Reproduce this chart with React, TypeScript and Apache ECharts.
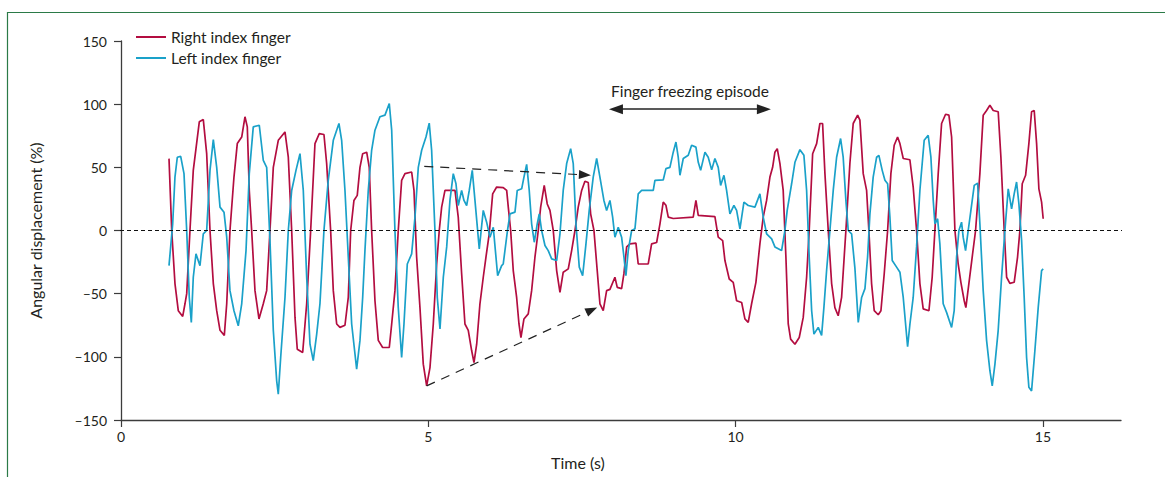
import React, { useEffect, useRef } from "react";
import * as echarts from "echarts";

const xTicks = [0, 5, 10, 15];
const yTicks = [-150, -100, -50, 0, 50, 100, 150];
const seriesNames = ["Right index finger", "Left index finger"];

// [time (s), angular displacement (%)]
const rightFinger: [number, number][] = [
  [0.781,56.9],[0.825,0],[0.878,-42],[0.932,-63.5],[1.004,-68],[1.041,-58],[1.069,-50],[1.122,0],[1.176,47.6],[1.220,64.8],[1.274,86],[1.339,87.8],[1.394,60.8],[1.448,0],[1.502,-42],[1.557,-63.5],[1.611,-79],[1.681,-83],[1.720,-58],[1.773,0],[1.838,42.3],[1.892,68.8],[1.964,74],[2.017,90],[2.055,82],[2.087,31.7],[2.126,0],[2.180,-47.6],[2.245,-70],[2.315,-58],[2.370,-47.6],[2.424,0],[2.478,50],[2.559,71.4],[2.668,78],[2.722,58],[2.777,0],[2.831,-68.8],[2.868,-94],[2.956,-96.6],[3.021,-58],[3.086,0],[3.156,68.8],[3.226,76.7],[3.302,76],[3.346,53],[3.411,0],[3.454,-47.6],[3.509,-74],[3.563,-76.7],[3.644,-75],[3.698,-53],[3.737,0],[3.790,23.8],[3.844,27.8],[3.888,50],[3.932,60.8],[3.997,62],[4.039,50],[4.078,0],[4.132,-55.6],[4.186,-87],[4.257,-92.6],[4.365,-92.6],[4.404,-74],[4.457,-47.6],[4.511,0],[4.566,39.7],[4.620,45],[4.729,46.3],[4.767,31.7],[4.810,-21],[4.864,-61],[4.918,-105.8],[4.973,-123],[5.027,-108.5],[5.081,-74],[5.136,-26.5],[5.178,0],[5.217,18.5],[5.271,31.7],[5.352,31.7],[5.434,31.7],[5.487,10.6],[5.542,-34],[5.596,-74],[5.650,-79],[5.705,-95],[5.743,-104.5],[5.787,-90],[5.840,-58],[5.894,-37],[5.938,-21],[5.991,-2.6],[6.047,29],[6.112,34.4],[6.219,34],[6.275,31.7],[6.301,18.5],[6.340,0],[6.382,-31.7],[6.437,-53],[6.475,-74],[6.507,-84.7],[6.556,-70],[6.626,-66],[6.681,-47.6],[6.735,-21],[6.789,0],[6.828,18.5],[6.886,35.7],[6.935,21],[6.979,15.9],[7.033,0],[7.088,-31.7],[7.142,-49],[7.195,-33],[7.277,-30.4],[7.332,-15.9],[7.386,0],[7.439,18.5],[7.495,31.7],[7.548,39],[7.602,38],[7.641,13.2],[7.695,0],[7.748,-31.7],[7.792,-58],[7.846,-63.5],[7.901,-47.6],[7.955,-46.6],[8.036,-37],[8.074,-45],[8.145,-46],[8.183,-34],[8.227,-13],[8.280,-10.6],[8.378,-10],[8.415,-26.5],[8.578,-26.5],[8.633,-10.6],[8.715,-9.5],[8.769,5.3],[8.822,22.5],[8.866,20],[8.904,10.6],[8.985,9.5],[9.310,10.6],[9.354,23.8],[9.392,11.9],[9.663,11],[9.717,-5.3],[9.789,-8],[9.826,-23.8],[9.896,-38.4],[9.961,-41],[10.016,-55.6],[10.098,-57],[10.151,-70],[10.205,-72.8],[10.260,-58],[10.330,-41],[10.395,-10.6],[10.449,10.6],[10.504,23.8],[10.558,42.3],[10.602,50],[10.639,62],[10.677,64.8],[10.721,53],[10.774,31.7],[10.818,-21],[10.856,-74],[10.895,-86],[10.965,-90],[11.035,-84.7],[11.100,-68.8],[11.155,-37],[11.197,0],[11.253,60.8],[11.318,68.8],[11.371,84.7],[11.415,84.7],[11.453,45],[11.507,0],[11.562,-42],[11.615,-61],[11.669,-67.5],[11.724,-53],[11.794,0],[11.859,53],[11.913,84.7],[11.985,91.3],[12.022,87.3],[12.076,45],[12.131,31.7],[12.168,0],[12.212,-42],[12.255,-63.5],[12.320,-66.7],[12.364,-63.5],[12.418,-34],[12.473,0],[12.526,45],[12.580,67.5],[12.635,74],[12.673,68.8],[12.727,57],[12.835,56],[12.889,34.4],[12.944,0],[12.998,-42],[13.052,-62],[13.145,-63.5],[13.198,-37],[13.242,0],[13.296,45],[13.351,84.7],[13.416,92],[13.470,91.3],[13.514,74],[13.568,0],[13.621,-26.5],[13.665,-41],[13.719,-55.6],[13.746,-61],[13.795,-42],[13.849,-21],[13.904,0],[13.974,45],[14.028,91.3],[14.083,95],[14.137,99.2],[14.191,95],[14.272,94],[14.316,58],[14.370,0],[14.409,-37],[14.462,-41.8],[14.532,-41],[14.587,-21],[14.625,0],[14.663,37],[14.718,43.7],[14.771,68.8],[14.815,94],[14.858,95],[14.897,68.8],[14.934,33],[14.978,22.5],[15.004,9.3]
];

const leftFinger: [number, number][] = [
  [0.781,-27.8],[0.841,5.3],[0.878,42.3],[0.916,58],[0.971,58.7],[1.025,45],[1.069,0],[1.111,-53],[1.144,-72.8],[1.176,-37],[1.220,-18.5],[1.285,-27.8],[1.339,-2.6],[1.394,0],[1.448,47.6],[1.502,72],[1.557,50],[1.611,18.5],[1.676,14.5],[1.720,-5.3],[1.773,-47.6],[1.838,-63.5],[1.908,-75.4],[1.964,-58],[2.034,-15.9],[2.087,45],[2.152,82],[2.250,83.3],[2.315,55.6],[2.370,50],[2.424,-8],[2.478,-79],[2.533,-119],[2.559,-129.6],[2.598,-100.5],[2.668,-53],[2.722,0],[2.777,31.7],[2.847,47.6],[2.912,60.8],[2.966,31.7],[3.021,-37],[3.075,-90],[3.128,-103],[3.184,-82],[3.237,-58],[3.302,0],[3.372,39.7],[3.454,71.4],[3.546,84.7],[3.590,71.4],[3.644,31.7],[3.698,-21],[3.753,-74],[3.834,-109.8],[3.888,-87],[3.932,-53],[3.969,-15.9],[4.023,31.7],[4.078,63.5],[4.132,79.4],[4.213,90],[4.295,91.3],[4.365,100.5],[4.404,79.4],[4.457,0],[4.511,-61],[4.566,-100.5],[4.604,-74],[4.658,-26.5],[4.729,-18.5],[4.783,10.6],[4.837,50],[4.892,63.5],[4.962,74],[5.015,85],[5.054,63.5],[5.108,0],[5.146,-53],[5.190,-78],[5.244,-37],[5.299,-13],[5.352,23.8],[5.406,45],[5.450,37],[5.487,19.8],[5.542,31.7],[5.580,23.8],[5.624,19.8],[5.666,31.7],[5.715,47.6],[5.759,23.8],[5.829,-14.5],[5.894,15.9],[5.949,6.6],[6.003,-5.3],[6.057,2.6],[6.128,-35.7],[6.193,-27.8],[6.219,-26.5],[6.288,0],[6.329,13.2],[6.410,14.5],[6.447,31.7],[6.519,33],[6.556,42.3],[6.600,52.4],[6.642,31.7],[6.681,5.3],[6.724,-9.3],[6.772,5.3],[6.805,13.2],[6.844,0],[6.898,-11.9],[6.951,-15.9],[7.007,-22.5],[7.088,-23.8],[7.142,-2.6],[7.195,31.7],[7.251,53],[7.316,64.8],[7.358,53],[7.402,5.3],[7.456,-29],[7.511,-35.7],[7.565,-10.6],[7.618,15.9],[7.683,42.3],[7.739,57],[7.792,42.3],[7.857,23.8],[7.901,15.9],[7.955,23.8],[7.999,10.6],[8.036,-5.3],[8.090,2.6],[8.145,-5.3],[8.183,-21],[8.215,-35.7],[8.253,-15.9],[8.308,0],[8.362,1.3],[8.415,29],[8.471,31.7],[8.660,31.7],[8.687,39.7],[8.822,40],[8.866,49],[8.931,50],[8.985,62],[9.029,70],[9.066,58],[9.094,43.7],[9.148,57],[9.229,59.5],[9.284,67.5],[9.354,66],[9.392,54],[9.431,47.6],[9.501,62],[9.554,58],[9.610,48],[9.663,57],[9.717,50],[9.756,35.7],[9.810,43.7],[9.853,31.7],[9.907,13.2],[9.972,19.8],[10.016,15.9],[10.070,1.3],[10.135,22.5],[10.205,19.8],[10.314,18.5],[10.395,29],[10.449,10.6],[10.504,-2.6],[10.586,-6.6],[10.639,-13],[10.748,-15.9],[10.802,0],[10.839,15.9],[10.911,37],[10.965,54],[11.046,64],[11.111,59.5],[11.155,31.7],[11.197,-21],[11.237,-63.5],[11.274,-82],[11.344,-76.7],[11.399,-83],[11.436,-61],[11.480,-31.7],[11.534,0],[11.588,31.7],[11.643,58],[11.708,72.8],[11.750,58],[11.794,23.8],[11.832,0],[11.887,-2.6],[11.941,-30],[11.995,-72.8],[12.050,-53],[12.104,-46],[12.147,-21],[12.185,13.2],[12.238,42.3],[12.294,58],[12.331,59.5],[12.385,47.6],[12.429,39.7],[12.473,37],[12.510,10.6],[12.548,-23.8],[12.619,-29],[12.673,-33],[12.727,-53],[12.798,-92],[12.836,-74],[12.889,-53],[12.944,-13],[12.998,31.7],[13.068,71.4],[13.133,75.4],[13.177,58],[13.215,23.8],[13.242,5.3],[13.286,9.3],[13.323,-10.6],[13.377,-58],[13.432,-64.8],[13.514,-76.7],[13.556,-63.5],[13.595,-21],[13.633,0],[13.676,6.6],[13.702,-5.3],[13.741,-15.9],[13.784,0],[13.828,15.9],[13.882,35.7],[13.937,37.5],[13.974,5.3],[14.028,-47.6],[14.083,-87],[14.137,-111],[14.175,-123],[14.219,-105.8],[14.272,-79],[14.327,-37],[14.381,0],[14.435,33],[14.490,17.2],[14.532,29],[14.571,38.4],[14.609,21],[14.653,-8],[14.695,-53],[14.734,-100.5],[14.771,-124],[14.815,-127],[14.869,-95],[14.923,-61],[14.978,-31.7],[15.004,-30.4]
];

// annotation anchor points, in data units
const upperArrow: [number, number][] = [[4.934, 50.8], [7.548, 44]];
const lowerArrow: [number, number][] = [[4.973, -123], [7.659, -62.9]];
const freezeEpisode: [number, number][] = [[8.053, 96], [10.46, 96]];
const freezeLabel = "Finger freezing episode";

const RED = "#B30D40";
const BLUE = "#1AA1C9";
const FONT = "Lato";
const TEXT = "#231f20";
const AXIS = "#3c3c3c";

export default function App() {
  const ref = useRef<HTMLDivElement>(null);

  useEffect(() => {
    if (!ref.current) return;
    const chart = echarts.init(ref.current, null, { renderer: "svg" });
    const dash = (v: number) => (v < 0 ? "\u2013" + Math.abs(v) : String(v));
    const dashedStyle = { color: "#222", type: [9, 7], width: 1.2 };
    const arrowLine = (pts: [number, number][]) => [
      { coord: pts[0], symbol: "none", lineStyle: dashedStyle },
      { coord: pts[1], symbol: "triangle", symbolSize: [9, 12] },
    ];
    chart.setOption({
      animation: false,
      backgroundColor: "#ffffff",
      textStyle: { fontFamily: FONT },
      grid: { left: 121, right: 44, top: 41, bottom: 57 },
      legend: {
        data: seriesNames,
        orient: "vertical",
        left: 131,
        top: 24,
        itemWidth: 30,
        itemHeight: 14,
        itemGap: 5,
        icon: "path://M0,6 L30,6 L30,8 L0,8 Z",
        textStyle: { fontFamily: FONT, fontSize: 15.5, color: TEXT, lineHeight: 16 },
      },
      xAxis: {
        type: "value",
        min: 0,
        max: 16.27,
        interval: 5,
        axisLine: { onZero: false, lineStyle: { color: AXIS, width: 1.3 } },
        axisTick: { length: 7, customValues: xTicks, lineStyle: { color: AXIS, width: 1.2 } },
        axisLabel: {
          margin: 9,
          fontSize: 14,
          color: TEXT,
          fontFamily: FONT,
          customValues: xTicks,
          formatter: (v: number) => String(v),
        },
        splitLine: { show: false },
      },
      yAxis: {
        type: "value",
        min: yTicks[0],
        max: yTicks[yTicks.length - 1],
        interval: 50,
        name: "Angular displacement (%)",
        nameLocation: "middle",
        nameGap: 78,
        nameTextStyle: { fontFamily: FONT, fontSize: 16, color: TEXT },
        axisLine: { show: true, lineStyle: { color: AXIS, width: 1.3 } },
        axisTick: { show: true, length: 7, lineStyle: { color: AXIS, width: 1.2 } },
        axisLabel: { margin: 14, fontSize: 14, color: TEXT, fontFamily: FONT, formatter: dash },
        splitLine: { show: false },
      },
      graphic: [
        {
          type: "rect",
          shape: { x: 7.5, y: 12.5, width: 1300, height: 600 },
          style: { fill: "none", stroke: "#2b7a47", lineWidth: 1.2 },
          silent: true,
        },
        {
          type: "text",
          x: 578,
          y: 462,
          style: {
            text: "Time (s)",
            fontFamily: FONT,
            fontSize: 16,
            fill: TEXT,
            align: "center",
            verticalAlign: "middle",
          },
        },
      ],
      series: [
        {
          name: seriesNames[0],
          type: "line",
          data: rightFinger,
          symbol: "none",
          lineStyle: { color: RED, width: 1.7 },
          itemStyle: { color: RED },
          z: 2,
          markLine: {
            silent: true,
            symbol: "none",
            label: { show: false },
            lineStyle: { color: "#111", type: [4, 3], width: 1.2 },
            itemStyle: { color: "#222" },
            data: [
              [
                { yAxis: 0, x: 120, symbol: "none" },
                { yAxis: 0, x: 1122, symbol: "none" },
              ],
              arrowLine(upperArrow),
              arrowLine(lowerArrow),
              [
                {
                  coord: freezeEpisode[0],
                  symbol: "triangle",
                  symbolSize: [10, 14],
                  lineStyle: { color: "#222", type: "solid", width: 1.6 },
                  label: {
                    show: true,
                    position: "insideMiddleTop",
                    formatter: freezeLabel,
                    fontFamily: FONT,
                    fontSize: 15.5,
                    color: TEXT,
                    distance: 10,
                  },
                },
                { coord: freezeEpisode[1], symbol: "triangle", symbolSize: [10, 14] },
              ],
            ],
          },
        },
        {
          name: seriesNames[1],
          type: "line",
          data: leftFinger,
          symbol: "none",
          lineStyle: { color: BLUE, width: 1.7 },
          itemStyle: { color: BLUE },
          z: 3,
        },
      ],
    });
    return () => chart.dispose();
  }, []);

  return (
    <div
      ref={ref}
      style={{ position: "fixed", left: 0, top: 0, width: 1165, height: 477, background: "#fff" }}
    />
  );
}
